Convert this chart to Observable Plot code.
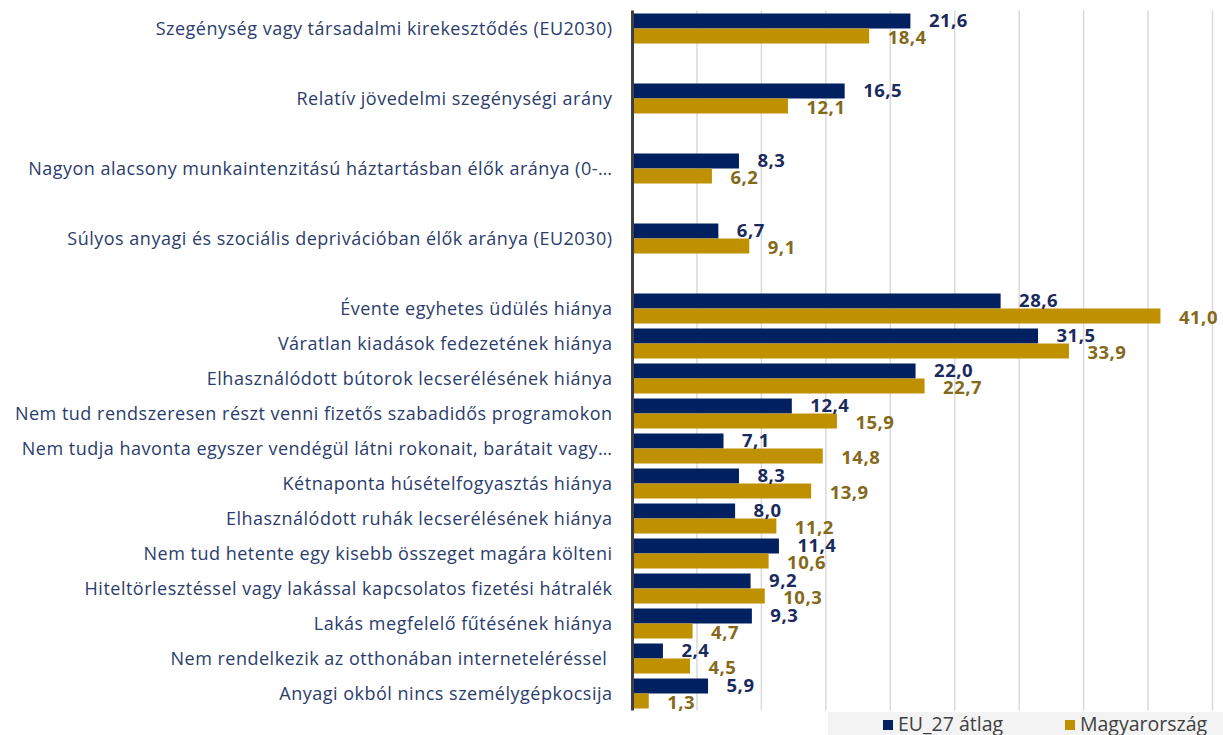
<!DOCTYPE html>
<html>
<head>
<meta charset="utf-8">
<script src="https://cdn.jsdelivr.net/npm/d3@7"></script>
<script src="https://cdn.jsdelivr.net/npm/@observablehq/plot@0.6"></script>
<style>
  html, body { margin: 0; padding: 0; background: #fff; }
  #chart { width: 1223px; }
  #chart svg { overflow: visible; }
  #legend { position: relative; width: 1223px; height: 23px; font-family: "Open Sans", sans-serif; }
  #legend .box { position: absolute; left: 828px; top: 0; width: 395px; height: 24px; background: #f3f3f3; }
  #legend .item { position: absolute; top: 0; height: 24px; line-height: 24px; font-size: 19.5px; color: #404040; white-space: nowrap; }
  #legend .sw { display: inline-block; width: 10px; height: 10px; margin-right: 5px; vertical-align: 1px; }
</style>
</head>
<body>
<div id="chart"></div>
<div id="legend"></div>
<script>
const categories = [
  "Szegénység vagy társadalmi kirekesztődés (EU2030)",
  "Relatív jövedelmi szegénységi arány",
  "Nagyon alacsony munkaintenzitású háztartásban élők aránya (0-…",
  "Súlyos anyagi és szociális deprivációban élők aránya (EU2030)",
  "Évente egyhetes üdülés hiánya",
  "Váratlan kiadások fedezetének hiánya",
  "Elhasználódott bútorok lecserélésének hiánya",
  "Nem tud rendszeresen részt venni fizetős szabadidős programokon",
  "Nem tudja havonta egyszer vendégül látni rokonait, barátait vagy…",
  "Kétnaponta húsételfogyasztás hiánya",
  "Elhasználódott ruhák lecserélésének hiánya",
  "Nem tud hetente egy kisebb összeget magára költeni",
  "Hiteltörlesztéssel vagy lakással kapcsolatos fizetési hátralék",
  "Lakás megfelelő fűtésének hiánya",
  "Nem rendelkezik az otthonában interneteléréssel\u00a0",
  "Anyagi okból nincs személygépkocsija"
];
const euValues = [21.6, 16.5, 8.3, 6.7, 28.6, 31.5, 22.0, 12.4, 7.1, 8.3, 8.0, 11.4, 9.2, 9.3, 2.4, 5.9];
const huValues = [18.4, 12.1, 6.2, 9.1, 41.0, 33.9, 22.7, 15.9, 14.8, 13.9, 11.2, 10.6, 10.3, 4.7, 4.5, 1.3];
const seriesNames = ["EU_27 átlag", "Magyarország"];
const gridTicks = [5, 10, 15, 20, 25, 30, 35, 40, 45];
const spacedCount = 4; // first group of indicators is shown with an empty row after each

const colors = { eu: "#002060", hu: "#BF9000", euText: "#1b2a5c", huText: "#85691a", label: "#2a3d6c" };

// y domain: categories with empty spacer rows after the first group
const gapKeys = new Set();
const slots = [];
categories.forEach((c, i) => {
  slots.push(c);
  if (i < spacedCount) { const g = "__gap" + i; gapKeys.add(g); slots.push(g); }
});

const rows = categories.map((c, i) => ({ category: c, eu: euValues[i], hu: huValues[i] }));
const fmt = v => v.toFixed(1).replace(".", ",");

const chart = Plot.plot({
  width: 1223,
  height: 712,
  marginLeft: 632,
  marginRight: 11,
  marginTop: 10.5,
  marginBottom: 1.5,
  style: { fontFamily: "Open Sans, sans-serif", fontSize: "18px", letterSpacing: "0.5px", color: colors.label, background: "#fff" },
  x: { domain: [0, 45], axis: null },
  y: { domain: slots, padding: 0, tickSize: 0, tickPadding: 20, label: null,
       tickFormat: d => gapKeys.has(d) ? "" : d },
  marks: [
    Plot.ruleX(gridTicks, { stroke: "#d9d9d9", strokeWidth: 1.5 }),
    Plot.barX(rows, { y: "category", x: "eu", fill: colors.eu, insetTop: 2.5, insetBottom: 17.5 }),
    Plot.barX(rows, { y: "category", x: "hu", fill: colors.hu, insetTop: 17.5, insetBottom: 2.5 }),
    Plot.ruleX([0], { stroke: "#3f3f3f", strokeWidth: 3 }),
    Plot.text(rows, { y: "category", x: "eu", text: d => fmt(d.eu), dx: 18, dy: -8, textAnchor: "start",
                      fill: colors.euText, fontWeight: "bold", fontSize: 18.5 }),
    Plot.text(rows, { y: "category", x: "hu", text: d => fmt(d.hu), dx: 18, dy: 9, textAnchor: "start",
                      fill: colors.huText, fontWeight: "bold", fontSize: 18.5 })
  ]
});
document.getElementById("chart").appendChild(chart);

// legend
const legend = document.getElementById("legend");
legend.innerHTML = `<div class="box"></div>
  <div class="item" style="left:883px"><span class="sw" style="background:${colors.eu}"></span>${seriesNames[0]}</div>
  <div class="item" style="left:1065px"><span class="sw" style="background:${colors.hu}"></span>${seriesNames[1]}</div>`;
</script>
</body>
</html>
